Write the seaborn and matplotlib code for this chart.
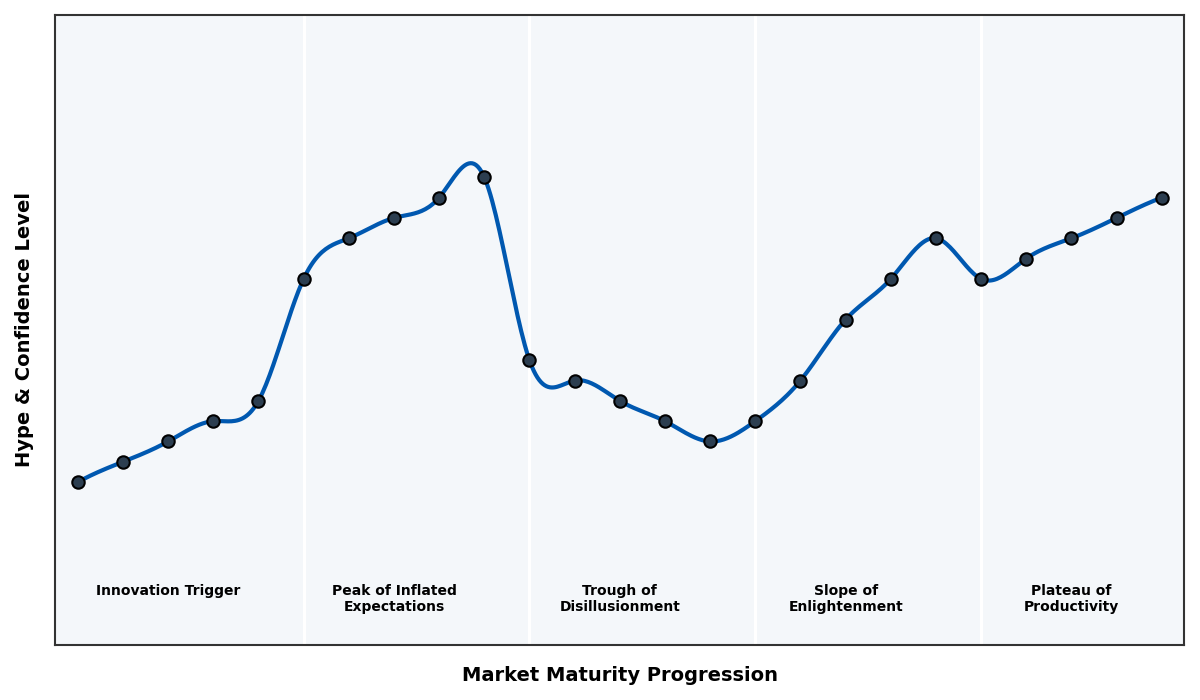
import numpy as np
import pandas as pd
import matplotlib
matplotlib.use("Agg")
import matplotlib.pyplot as plt
import seaborn as sns

sns.set_style("white")
plt.rcParams['font.family'] = ['DejaVu Sans']
plt.rcParams['text.color'] = 'black'
plt.rcParams['axes.labelcolor'] = 'black'

# ── datos ────────────────────────────────────────────────────────────────────
stage = list(range(25))
hype = [20, 25, 30, 35, 40, 70, 80, 85, 90, 95, 50, 45, 40, 35, 30,
        35, 45, 60, 70, 80, 70, 75, 80, 85, 90]
phase_names = ["Innovation Trigger", "Peak of Inflated\nExpectations",
               "Trough of\nDisillusionment", "Slope of\nEnlightenment",
               "Plateau of\nProductivity"]
phase_start = [0, 5, 10, 15, 20]
phase_center = [2, 7, 12, 17, 22]


def spline_notaknot(x, y, xs):
    # cubic spline, not-a-knot, equal spacing
    x = np.asarray(x, float)
    y = np.asarray(y, float)
    n = len(x)
    h = x[1] - x[0]
    A = np.zeros((n, n))
    b = np.zeros(n)
    A[0, :3] = [1, -2, 1]
    A[-1, -3:] = [1, -2, 1]
    for i in range(1, n - 1):
        A[i, i - 1:i + 2] = [1, 4, 1]
        b[i] = 6 * (y[i + 1] - 2 * y[i] + y[i - 1]) / h**2
    M = np.linalg.solve(A, b)
    idx = np.clip(np.searchsorted(x, xs) - 1, 0, n - 2)
    a = (x[idx + 1] - xs) / h
    t = (xs - x[idx]) / h
    return (M[idx] * a**3 * h**2 / 6 + M[idx + 1] * t**3 * h**2 / 6
            + (y[idx] - M[idx] * h**2 / 6) * a + (y[idx + 1] - M[idx + 1] * h**2 / 6) * t)


df = pd.DataFrame({"stage": stage, "hype": hype})
xs = np.linspace(min(stage), max(stage), 600)
smooth = pd.DataFrame({"stage": xs, "hype": spline_notaknot(stage, hype, xs)})

# ── figura ───────────────────────────────────────────────────────────────────
fig, ax = plt.subplots(figsize=(12, 7), dpi=100)
ax.set_facecolor("#f4f7fa")

for xv in phase_start[1:]:
    ax.axvline(xv, color="white", lw=2.2, zorder=1)

sns.lineplot(data=smooth, x="stage", y="hype", ax=ax, color="#0058b0", lw=3, zorder=2)
sns.scatterplot(data=df, x="stage", y="hype", ax=ax, s=80, color="#2c3e50",
                edgecolor="black", linewidth=1.5, zorder=3)

ymin, ymax = min(hype) - 40, max(hype) + 40
ax.set_ylim(ymin, ymax)
ax.set_xlim(-0.5, 24.5)

for name, cx in zip(phase_names, phase_center):
    ax.text(cx, -5, name, ha="center", va="top", fontsize=10, fontweight="bold",
            color="black")

ax.set_xticks([])
ax.set_yticks([])
ax.set_xlabel("Market Maturity Progression", fontsize=14, fontweight="bold", labelpad=15)
ax.set_ylabel("Hype & Confidence Level", fontsize=14, fontweight="bold", labelpad=15)
for s in ax.spines.values():
    s.set_color("#333333")
    s.set_linewidth(1.5)

plt.subplots_adjust(left=0.046, right=0.987, top=0.979, bottom=0.079)
plt.savefig("out.png", dpi=100)
plt.close()
